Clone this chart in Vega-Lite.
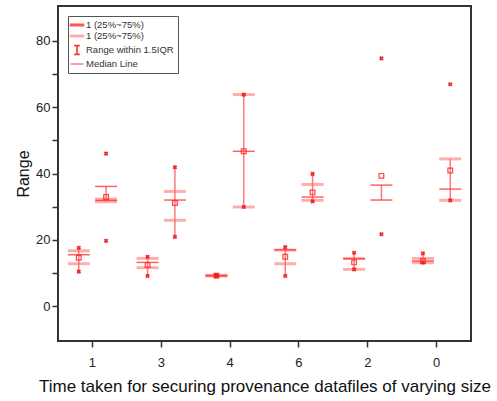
{
  "$schema": "https://vega.github.io/schema/vega-lite/v6.json",
  "width": 413,
  "height": 335,
  "autosize": {"type": "none"},
  "padding": {"left": 58, "top": 6, "right": 26, "bottom": 60},
  "background": "white",
  "config": {
    "view": {"stroke": "#333333", "strokeWidth": 2},
    "font": "Liberation Sans",
    "axis": {"domain": false, "grid": false, "tickColor": "#333333", "tickWidth": 1.5, "tickSize": 6, "labelColor": "#222222", "labelFontSize": 13, "titleColor": "#111111", "titleFontSize": 16, "titleFontWeight": "normal"}
  },
  "datasets": {
    "whisk": [
      {"cat": "1", "s": "a", "lo": 10.4, "hi": 17.6},
      {"cat": "1", "s": "b", "lo": 31.5, "hi": 36.1},
      {"cat": "3", "s": "a", "lo": 9.1, "hi": 14.9},
      {"cat": "3", "s": "b", "lo": 20.9, "hi": 41.9},
      {"cat": "4", "s": "a", "lo": 9.0, "hi": 9.4},
      {"cat": "4", "s": "b", "lo": 29.9, "hi": 63.8},
      {"cat": "6", "s": "a", "lo": 9.1, "hi": 17.8},
      {"cat": "6", "s": "b", "lo": 31.6, "hi": 39.9},
      {"cat": "2", "s": "a", "lo": 11.1, "hi": 16.1},
      {"cat": "2", "s": "b", "lo": 32.0, "hi": 36.5},
      {"cat": "0", "s": "a", "lo": 13.1, "hi": 15.9},
      {"cat": "0", "s": "b", "lo": 31.9, "hi": 44.4}
    ],
    "lines": [
      {"cat": "1", "s": "a", "v": 16.7, "kind": "box"},
      {"cat": "1", "s": "a", "v": 12.8, "kind": "box"},
      {"cat": "1", "s": "a", "v": 15.5, "kind": "med"},
      {"cat": "1", "s": "b", "v": 36.1, "kind": "cap"},
      {"cat": "1", "s": "b", "v": 32.3, "kind": "box"},
      {"cat": "1", "s": "b", "v": 31.5, "kind": "box"},
      {"cat": "1", "s": "b", "v": 31.9, "kind": "med"},
      {"cat": "3", "s": "a", "v": 14.4, "kind": "box"},
      {"cat": "3", "s": "a", "v": 11.6, "kind": "box"},
      {"cat": "3", "s": "a", "v": 13.2, "kind": "med"},
      {"cat": "3", "s": "b", "v": 34.6, "kind": "box"},
      {"cat": "3", "s": "b", "v": 25.9, "kind": "box"},
      {"cat": "3", "s": "b", "v": 32.0, "kind": "med"},
      {"cat": "4", "s": "a", "v": 9.3, "kind": "box"},
      {"cat": "4", "s": "a", "v": 9.1, "kind": "box"},
      {"cat": "4", "s": "a", "v": 9.2, "kind": "med"},
      {"cat": "4", "s": "b", "v": 63.8, "kind": "box"},
      {"cat": "4", "s": "b", "v": 29.9, "kind": "box"},
      {"cat": "4", "s": "b", "v": 46.7, "kind": "med"},
      {"cat": "6", "s": "a", "v": 16.9, "kind": "box"},
      {"cat": "6", "s": "a", "v": 12.8, "kind": "box"},
      {"cat": "6", "s": "a", "v": 17.0, "kind": "med"},
      {"cat": "6", "s": "b", "v": 36.7, "kind": "box"},
      {"cat": "6", "s": "b", "v": 31.9, "kind": "box"},
      {"cat": "6", "s": "b", "v": 32.9, "kind": "med"},
      {"cat": "2", "s": "a", "v": 14.4, "kind": "box"},
      {"cat": "2", "s": "a", "v": 11.1, "kind": "box"},
      {"cat": "2", "s": "a", "v": 14.3, "kind": "med"},
      {"cat": "2", "s": "b", "v": 36.5, "kind": "cap"},
      {"cat": "2", "s": "b", "v": 32.0, "kind": "cap"},
      {"cat": "0", "s": "a", "v": 14.4, "kind": "box"},
      {"cat": "0", "s": "a", "v": 13.1, "kind": "box"},
      {"cat": "0", "s": "a", "v": 13.6, "kind": "med"},
      {"cat": "0", "s": "b", "v": 44.4, "kind": "box"},
      {"cat": "0", "s": "b", "v": 31.9, "kind": "box"},
      {"cat": "0", "s": "b", "v": 35.3, "kind": "med"}
    ],
    "means": [
      {"cat": "1", "s": "a", "v": 14.6},
      {"cat": "1", "s": "b", "v": 32.9},
      {"cat": "3", "s": "a", "v": 12.4},
      {"cat": "3", "s": "b", "v": 31.1},
      {"cat": "4", "s": "a", "v": 9.2},
      {"cat": "4", "s": "b", "v": 46.7},
      {"cat": "6", "s": "a", "v": 14.9},
      {"cat": "6", "s": "b", "v": 34.3},
      {"cat": "2", "s": "a", "v": 13.2},
      {"cat": "2", "s": "b", "v": 39.3},
      {"cat": "0", "s": "a", "v": 13.6},
      {"cat": "0", "s": "b", "v": 40.9}
    ],
    "marks": [
      {"cat": "1", "s": "a", "v": 17.6}, {"cat": "1", "s": "a", "v": 10.4},
      {"cat": "1", "s": "b", "v": 46.0}, {"cat": "1", "s": "b", "v": 19.7},
      {"cat": "3", "s": "a", "v": 14.9}, {"cat": "3", "s": "a", "v": 9.1},
      {"cat": "3", "s": "b", "v": 41.9}, {"cat": "3", "s": "b", "v": 20.9},
      {"cat": "4", "s": "a", "v": 9.4}, {"cat": "4", "s": "a", "v": 9.0},
      {"cat": "4", "s": "b", "v": 63.8}, {"cat": "4", "s": "b", "v": 29.9},
      {"cat": "6", "s": "a", "v": 17.8}, {"cat": "6", "s": "a", "v": 9.1},
      {"cat": "6", "s": "b", "v": 39.9}, {"cat": "6", "s": "b", "v": 31.6},
      {"cat": "2", "s": "a", "v": 16.1}, {"cat": "2", "s": "a", "v": 11.1},
      {"cat": "2", "s": "b", "v": 74.7}, {"cat": "2", "s": "b", "v": 21.7},
      {"cat": "0", "s": "a", "v": 15.9}, {"cat": "0", "s": "a", "v": 13.1},
      {"cat": "0", "s": "b", "v": 66.9}, {"cat": "0", "s": "b", "v": 31.9}
    ],
    "legend": [
      {"name": "a"}, {"name": "b"}, {"name": "c"}, {"name": "d"}
    ]
  },
  "encoding": {
    "x": {
      "field": "cat", "type": "nominal",
      "sort": ["1", "3", "4", "6", "2", "0"],
      "scale": {"domain": ["1", "3", "4", "6", "2", "0"], "paddingInner": 0, "paddingOuter": 0},
      "axis": {"title": "Time taken for securing provenance datafiles of varying size", "labelAngle": 0, "labelPadding": 9, "titlePadding": 9, "titleFontSize": 17}
    },
    "xOffset": {"field": "s", "type": "nominal", "scale": {"domain": ["a", "b"], "paddingInner": 0, "paddingOuter": 0.26}}
  },
  "layer": [
    {
      "data": {"name": "whisk"},
      "mark": {"type": "rule", "color": "#ff3030", "opacity": 0.65, "strokeWidth": 1.5},
      "encoding": {
        "y": {"field": "lo", "type": "quantitative", "scale": {"domain": [-10.5, 90.5], "nice": false, "zero": false},
          "axis": {"title": "Range", "values": [0, 10, 20, 30, 40, 50, 60, 70, 80], "labelExpr": "datum.value % 20 === 0 ? datum.label : ''", "titlePadding": 4}},
        "y2": {"field": "hi"}
      }
    },
    {
      "data": {"name": "lines"},
      "transform": [{"filter": "datum.kind === 'box'"}],
      "mark": {"type": "tick", "color": "#ff6a6a", "opacity": 0.55, "size": 22, "thickness": 3},
      "encoding": {"y": {"field": "v", "type": "quantitative"}}
    },
    {
      "data": {"name": "lines"},
      "transform": [{"filter": "datum.kind !== 'box'"}],
      "mark": {"type": "tick", "color": "#ff3030", "opacity": 0.75, "size": 22, "thickness": 1.5},
      "encoding": {"y": {"field": "v", "type": "quantitative"}}
    },
    {
      "data": {"name": "means"},
      "mark": {"type": "point", "shape": "square", "filled": false, "color": "#ff3030", "size": 22, "strokeWidth": 1.2, "opacity": 0.9},
      "encoding": {"y": {"field": "v", "type": "quantitative"}}
    },
    {
      "data": {"name": "marks"},
      "mark": {"type": "point", "shape": "cross", "angle": 45, "filled": true, "color": "#e81c1c", "size": 22, "opacity": 0.9},
      "encoding": {"y": {"field": "v", "type": "quantitative"}}
    },
    {
      "data": {"name": "legend"},
      "mark": {"type": "point", "filled": false, "opacity": 0, "strokeWidth": 1.6},
      "encoding": {
        "x": null,
        "xOffset": null,
        "color": {"field": "name", "type": "nominal",
          "scale": {"domain": ["a", "b", "c", "d"], "range": ["#ff5555", "#ffaaaa", "#ff3030", "#ff8888"]},
          "legend": {"title": null, "orient": "top-left", "offset": 10, "symbolOpacity": 1, "symbolSize": 64, "symbolStrokeWidth": 1.6,
            "labelFontSize": 9.5, "labelColor": "#333333", "rowPadding": 1, "padding": 4, "strokeColor": "#555555", "fillColor": "white",
            "labelExpr": "datum.value === 'a' || datum.value === 'b' ? '1 (25%~75%)' : datum.value === 'c' ? 'Range within 1.5IQR' : 'Median Line'"}},
        "shape": {"field": "name", "type": "nominal",
          "scale": {"domain": ["a", "b", "c", "d"], "range": ["M-1.6,-0.18H1.6V0.18H-1.6Z", "M-1.6,-0.15H1.6V0.15H-1.6Z", "M-0.7,-1.1H0.7M0,-1.1V1.1M-0.7,1.1H0.7", "M-1.6,0H1.6"]},
          "legend": {"title": null}}
      }
    }
  ]
}
